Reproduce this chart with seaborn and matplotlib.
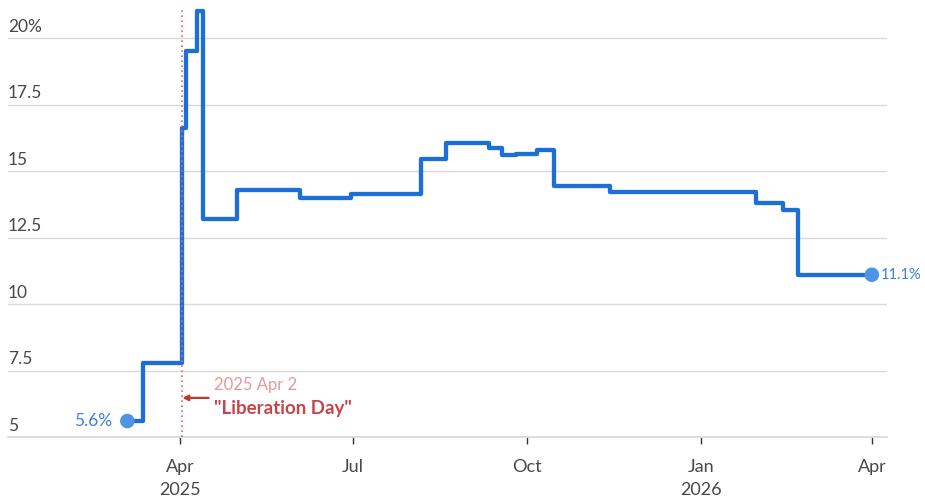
import pandas as pd
import matplotlib.pyplot as plt
import seaborn as sns

# effective US tariff rate, step changes
dates = ["2025-03-04", "2025-03-12", "2025-04-02", "2025-04-04", "2025-04-10",
         "2025-04-13", "2025-05-01", "2025-06-03", "2025-06-30", "2025-08-06",
         "2025-08-19", "2025-09-11", "2025-09-18", "2025-09-25", "2025-10-06",
         "2025-10-15", "2025-11-14", "2026-01-30", "2026-02-13", "2026-02-21",
         "2026-04-01"]
rates = [5.6, 7.8, 16.6, 19.5, 21.0, 13.2, 14.3, 14.0, 14.15, 15.45,
         16.05, 15.85, 15.6, 15.65, 15.8, 14.45, 14.2, 13.8, 13.55, 11.1,
         11.1]

ytick_vals = [5, 7.5, 10, 12.5, 15, 17.5, 20]
ytick_labels = ["5", "7.5", "10", "12.5", "15", "17.5", "20%"]
xtick_dates = ["2025-04-01", "2025-07-01", "2025-10-01", "2026-01-01", "2026-04-01"]
xtick_labels = ["Apr\n2025", "Jul", "Oct", "Jan\n2026", "Apr"]
event_date = "2025-04-02"

df = pd.DataFrame({"date": pd.to_datetime(dates), "rate": rates})

sns.set_theme(style="white")
plt.rcParams["font.family"] = ["Lato", "DejaVu Sans"]

BLUE = "#1b6fd6"
DOT = "#4f93e6"
GRID = "#d9d9d9"
TXT = "#474747"

fig = plt.figure(figsize=(9.25, 4.98), dpi=100)
ax = fig.add_axes([8 / 925, 1 - 437 / 498, 879 / 925, 437 / 498])

sns.lineplot(data=df, x="date", y="rate", ax=ax, color=BLUE, linewidth=3.1,
             drawstyle="steps-post", solid_joinstyle="round",
             solid_capstyle="round", zorder=3)
ends = df.iloc[[0, -1]]
sns.scatterplot(data=ends, x="date", y="rate", ax=ax, color=DOT, s=110,
                edgecolor="none", zorder=4)

ax.set_xlim(pd.Timestamp("2024-12-31"), pd.Timestamp("2026-04-09"))
ax.set_ylim(5, 21.43)

# gridlines with labels sitting on top
ax.set_yticks(ytick_vals)
ax.set_yticklabels([])
ax.tick_params(axis="y", length=0)
for v, lab in zip(ytick_vals, ytick_labels):
    ax.axhline(v, color=GRID, lw=1, zorder=0)
    ax.annotate(lab, xy=(0, v), xycoords=("axes fraction", "data"),
                xytext=(0, 4.5), textcoords="offset points", ha="left",
                va="baseline", fontsize=12.5, color=TXT)

ax.set_xticks(pd.to_datetime(xtick_dates))
ax.set_xticklabels(xtick_labels, fontsize=13, color=TXT, linespacing=1.6)
ax.tick_params(axis="x", length=5, width=1, color="#333333", pad=10.5,
               bottom=True)
ax.set_xlabel("")
ax.set_ylabel("")
for s in ["top", "right", "left"]:
    ax.spines[s].set_visible(False)
ax.spines["bottom"].set_color(GRID)

# Liberation Day marker
ev = pd.Timestamp(event_date)
ax.axvline(ev, ymin=0, ymax=0.985, color="#e06666", lw=1.2, ls=(0, (1, 2)),
           zorder=5)
ax.annotate("", xy=(ev, 6.47), xytext=(19, 0), textcoords="offset points",
            xycoords="data",
            arrowprops=dict(arrowstyle="-|>", color="#c0392b", lw=1.6,
                            mutation_scale=8, shrinkA=0, shrinkB=0),
            annotation_clip=False)
ax.annotate("2025 Apr 2", xy=(ev, 6.95), xytext=(23, 0),
            textcoords="offset points", va="center", ha="left",
            fontsize=12, color="#e39a9a")
ax.annotate('"Liberation Day"', xy=(ev, 6.09), xytext=(23, 0),
            textcoords="offset points", va="center", ha="left",
            fontsize=13.5, color="#c9434b", fontweight="bold")

# end labels
ax.annotate("5.6%", xy=(ends["date"].iloc[0], ends["rate"].iloc[0]),
            xytext=(-11, 0), textcoords="offset points", ha="right",
            va="center", fontsize=12.5, color="#3d82d8")
ax.annotate("11.1%", xy=(ends["date"].iloc[1], ends["rate"].iloc[1]),
            xytext=(6.5, 0), textcoords="offset points", ha="left",
            va="center", fontsize=10.5, color="#3d82d8",
            annotation_clip=False)

fig.savefig("out.png", dpi=100)
